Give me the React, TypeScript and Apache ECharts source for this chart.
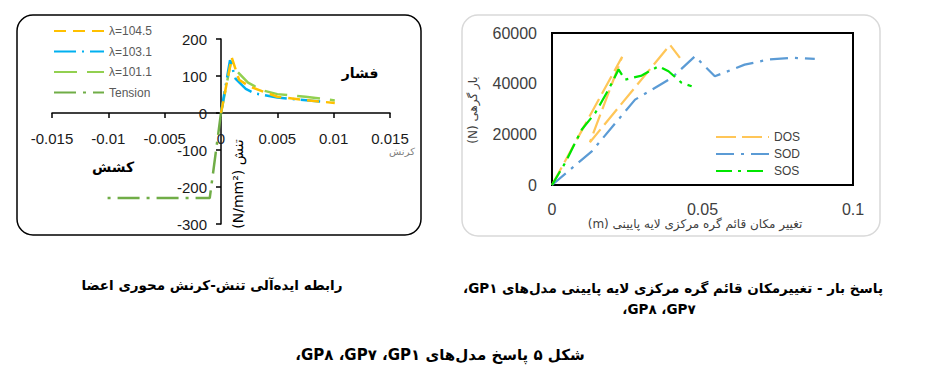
import React, { useEffect, useRef } from "react";
import * as echarts from "echarts";

// ---------- Left chart: idealised axial stress-strain relation ----------
const leftSeriesNames = ["λ=104.5", "λ=103.1", "λ=101.1", "Tension"];
const lambda1045: [number, number][] = [
  [0, 0], [0.00095, 150], [0.0016, 90], [0.0025, 72], [0.004, 55], [0.005, 44], [0.0075, 35], [0.0101, 27],
];
const lambda1031: [number, number][] = [
  [0, 0], [0.0008, 143], [0.0013, 92], [0.0022, 65], [0.003, 53], [0.005, 42], [0.007, 36], [0.0088, 31],
];
const lambda1011: [number, number][] = [
  [0, 0], [0.0009, 140], [0.0012, 120], [0.0024, 82], [0.0036, 62], [0.005, 51], [0.0075, 44], [0.0101, 34],
];
const tension: [number, number][] = [
  [0, 0], [-0.001, -230], [-0.0101, -230],
];
const leftXMin = -0.015, leftXMax = 0.015, leftXStep = 0.005;
const leftYMin = -300, leftYMax = 200, leftYStep = 100;

// ---------- Right chart: load vs. vertical displacement ----------
const rightSeriesNames = ["DOS", "SOD", "SOS"];
const dos: [number, number][] = [
  [0, 0], [0.0233, 50600], [0.0126, 16900], [0.0392, 55300], [0.0425, 50200],
];
const sod: [number, number][] = [
  [0, 0], [0.0133, 13400], [0.0276, 33700], [0.0398, 42300], [0.0475, 50800], [0.0541, 42900],
  [0.064, 47500], [0.0718, 49500], [0.0796, 50200], [0.0873, 49800],
];
const sos: [number, number][] = [
  [0, 0], [0.0044, 8800], [0.0099, 21900], [0.0144, 28500], [0.0188, 37700], [0.0221, 45600],
  [0.0243, 41600], [0.0298, 43200], [0.0354, 46900], [0.0387, 44900], [0.0431, 40300], [0.0464, 39000],
];
const rightXMin = 0, rightXMax = 0.1, rightXStep = 0.05;
const rightYMin = 0, rightYMax = 60000, rightYStep = 20000;

// ---------- Texts ----------
const RLE = "\u202B";
const PDF = "\u202C";
const RLM = "\u200F";
const leftYTitle = "(N/mm²) تنش";
const leftXTitle = "کرنش";
const compressionLabel = "فشار";
const tensionLabel = "کشش";
const rightYTitle = "(N) بار گرهی";
const rightXTitle = "تغییر مکان قائم گره مرکزی لایه پایینی (m)";
const captionLeft = "رابطه ایده‌آلی تنش-کرنش محوری اعضا";
const captionRight1 = "پاسخ بار - تغییرمکان قائم گره مرکزی لایه پایینی مدل‌های GP۱،";
const captionRight2 = "GP۷، GP۸،";
const captionFigure = "شکل ۵ پاسخ مدل‌های GP۱، GP۷، GP۸،";

const NUM_FONT = "'Liberation Sans', Arial, sans-serif";
const FA_FONT = "'DejaVu Sans', sans-serif";

// grid geometry
const LG = { left: 52, top: 39, width: 338, height: 185 };
const RG = { left: 552, top: 33, width: 301, height: 152 };

const rtl = (s: string) => RLE + s.split("،").join("،" + RLM) + PDF;

export default function App() {
  const ref = useRef<HTMLDivElement>(null);

  useEffect(() => {
    if (!ref.current) return;
    const chart = echarts.init(ref.current, undefined, { renderer: "svg" });

    const lineSeries = (
      name: string, data: [number, number][], idx: number, color: string, width: number, dash: number[], z = 2
    ) => ({
      name, type: "line", xAxisIndex: idx, yAxisIndex: idx, data,
      symbol: "none", showSymbol: false, z,
      lineStyle: { color, width, type: dash, cap: "butt" },
      itemStyle: { color },
    });

    const txt = (x: number, y: number, text: string, opts: any = {}, rotation = 0) => ({
      type: "text", x, y, rotation, z: 10,
      style: {
        text,
        fill: opts.fill || "#000",
        fontSize: opts.fontSize || 14,
        fontWeight: opts.fontWeight || "normal",
        fontFamily: opts.fontFamily || FA_FONT,
        textAlign: opts.align || "center",
        textVerticalAlign: "middle",
      },
    });

    // place the left chart's axes through the origin (Excel style crossing)
    const xAxisShift = -LG.height * (0 - leftYMin) / (leftYMax - leftYMin);
    const yAxisShift = -LG.width * (0 - leftXMin) / (leftXMax - leftXMin);

    const option: any = {
      animation: false,
      backgroundColor: "#ffffff",
      grid: [
        { ...LG },
        { ...RG, show: true, borderColor: "#000", borderWidth: 2, backgroundColor: "transparent" },
      ],
      xAxis: [
        {
          gridIndex: 0, type: "value", min: leftXMin, max: leftXMax, interval: leftXStep,
          position: "bottom", offset: xAxisShift,
          axisLine: { onZero: false, lineStyle: { color: "#000", width: 1.5 } },
          axisTick: { show: true, inside: false, length: 5, lineStyle: { color: "#000", width: 1.5 } },
          axisLabel: { margin: 18, color: "#1a1a1a", fontSize: 15, fontFamily: NUM_FONT },
          splitLine: { show: false },
        },
        {
          gridIndex: 1, type: "value", min: rightXMin, max: rightXMax, interval: rightXStep,
          axisLine: { show: false, onZero: false }, axisTick: { show: false },
          axisLabel: { margin: 16, color: "#404040", fontSize: 16, fontFamily: NUM_FONT },
          splitLine: { show: false },
        },
      ],
      yAxis: [
        {
          gridIndex: 0, type: "value", min: leftYMin, max: leftYMax, interval: leftYStep,
          position: "left", offset: yAxisShift,
          axisLine: { onZero: false, lineStyle: { color: "#000", width: 1.5 } },
          axisTick: { show: true, inside: false, length: 5, lineStyle: { color: "#000", width: 1.5 } },
          axisLabel: { margin: 14, color: "#1a1a1a", fontSize: 15, fontFamily: NUM_FONT },
          splitLine: { show: false },
        },
        {
          gridIndex: 1, type: "value", min: rightYMin, max: rightYMax, interval: rightYStep,
          axisLine: { show: false, onZero: false }, axisTick: { show: false },
          axisLabel: { margin: 15, color: "#404040", fontSize: 16, fontFamily: NUM_FONT, formatter: (v: number) => String(v) },
          splitLine: { show: false },
        },
      ],
      legend: [
        {
          data: leftSeriesNames, orient: "vertical", left: 53, top: 25, padding: 0,
          itemWidth: 50, itemHeight: 14, itemGap: 8.5, itemStyle: { opacity: 0 },
          textStyle: { color: "#595959", fontSize: 12, fontFamily: NUM_FONT },
        },
        {
          data: rightSeriesNames, orient: "vertical", left: 715, top: 131, padding: 0,
          itemWidth: 53, itemHeight: 14, itemGap: 5, itemStyle: { opacity: 0 },
          textStyle: { color: "#404040", fontSize: 12, fontFamily: NUM_FONT },
        },
      ],
      series: [
        lineSeries(leftSeriesNames[0], lambda1045, 0, "#FFC000", 2.5, [12, 7], 4),
        lineSeries(leftSeriesNames[1], lambda1031, 0, "#00B0F0", 2.5, [22, 6, 2, 6], 3),
        lineSeries(leftSeriesNames[2], lambda1011, 0, "#92D050", 2.5, [23, 10], 2),
        lineSeries(leftSeriesNames[3], tension, 0, "#70AD47", 2.5, [22, 7, 3, 7], 2),
        lineSeries(rightSeriesNames[0], dos, 1, "#FFC658", 2.25, [20, 6], 2),
        lineSeries(rightSeriesNames[1], sod, 1, "#5B9BD5", 2.25, [18, 7, 3, 7], 3),
        lineSeries(rightSeriesNames[2], sos, 1, "#00E600", 2.25, [16, 6, 3, 6], 4),
      ],
      graphic: [
        { type: "rect", z: 0, shape: { x: 17, y: 15, width: 404, height: 220, r: 16 }, style: { fill: "none", stroke: "#000", lineWidth: 1.5 } },
        { type: "rect", z: 0, shape: { x: 462, y: 15, width: 418, height: 221, r: 16 }, style: { fill: "none", stroke: "#d9d9d9", lineWidth: 1.5 } },
        txt(238, 184, leftYTitle, { fontSize: 14, fill: "#000" }, Math.PI / 2),
        txt(402, 151, leftXTitle, { fontSize: 10, fill: "#7f7f7f" }),
        txt(360, 73, compressionLabel, { fontSize: 14, fontWeight: "bold" }),
        txt(113, 167, tensionLabel, { fontSize: 14, fontWeight: "bold" }),
        txt(473, 110, rightYTitle, { fontSize: 12, fill: "#404040" }, Math.PI / 2),
        txt(695, 224, rtl(rightXTitle), { fontSize: 12, fill: "#404040" }),
        txt(212, 285, rtl(captionLeft), { fontSize: 13.5, fontWeight: "bold" }),
        txt(673, 288, rtl(captionRight1), { fontSize: 13.5, fontWeight: "bold" }),
        txt(659, 309, rtl(captionRight2), { fontSize: 13.5, fontWeight: "bold" }),
        txt(440, 355, rtl(captionFigure), { fontSize: 15, fontWeight: "bold" }),
      ],
    };

    chart.setOption(option);
    return () => chart.dispose();
  }, []);

  return (
    <div
      ref={ref}
      style={{ position: "absolute", left: 0, top: 0, width: 927, height: 383, background: "#fff" }}
    />
  );
}
